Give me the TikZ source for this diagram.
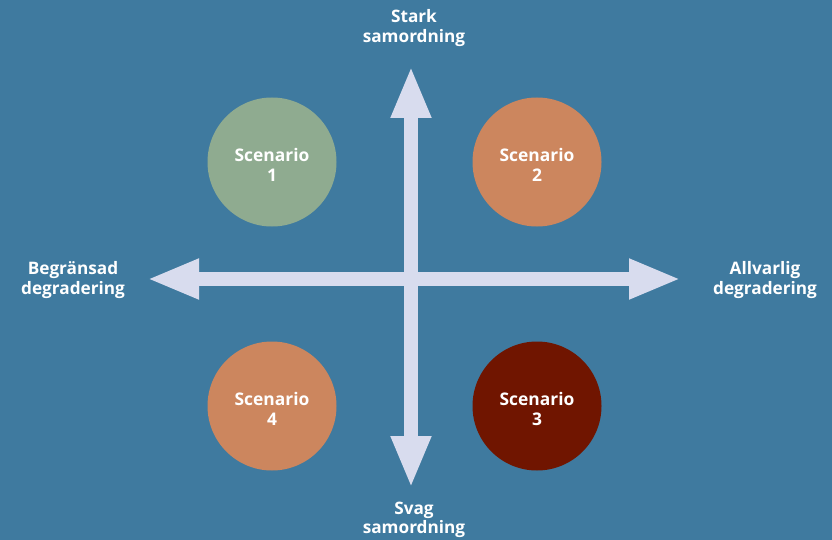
\documentclass[tikz,border=0pt]{standalone}
\usepackage{fontspec}
\setmainfont{Open Sans}
\usetikzlibrary{arrows.meta}
\definecolor{bg}{HTML}{3F7A9F}
\definecolor{arr}{HTML}{D8DCEE}
\definecolor{cgreen}{HTML}{8FAB90}
\definecolor{corange}{HTML}{CC865E}
\definecolor{cred}{HTML}{701500}
\tikzset{
  axis/.style={draw=arr, line width=14pt, {Triangle[length=52pt,width=37pt,fill=arr]}-{Triangle[length=52pt,width=37pt,fill=arr]}},
  scen/.style={circle, minimum size=129pt, inner sep=0pt, text=white, align=center, font=\fontsize{17.4}{19.5}\selectfont\bfseries},
  lbl/.style={text=white, align=center, font=\fontsize{17.2}{19.5}\selectfont\bfseries, inner sep=0pt}
}
\begin{document}
\begin{tikzpicture}[x=1pt,y=-1pt]
\fill[bg] (0,0) rectangle (832,540);
\useasboundingbox (0,0) rectangle (832,540);
\coordinate (top) at (411,66);
\coordinate (bot) at (411,488);
\coordinate (lft) at (147,279);
\coordinate (rgt) at (681,279);
\draw[axis] (lft) -- (rgt);
\draw[axis] (bot) -- (top);
\node[scen, fill=cgreen] (s1) at (272,162) {};
\node[scen, fill=corange] (s2) at (537,162) {};
\node[scen, fill=corange] (s4) at (272,406) {};
\node[scen, fill=cred] (s3) at (537,406) {};
\node[scen] at ([yshift=-3pt]s1.center) {Scenario\\1};
\node[scen] at ([yshift=-3pt]s2.center) {Scenario\\2};
\node[scen] at ([yshift=-3pt]s4.center) {Scenario\\4};
\node[scen] at ([yshift=-3pt]s3.center) {Scenario\\3};
\node[lbl] (stark) at (414,28) {Stark\\samordning};
\node[lbl] (svag) at (414,520) {Svag\\samordning};
\node[lbl] (beg) at (73,280) {Begränsad\\degradering};
\node[lbl] (all) at (765,280) {Allvarlig\\degradering};
\end{tikzpicture}
\end{document}
